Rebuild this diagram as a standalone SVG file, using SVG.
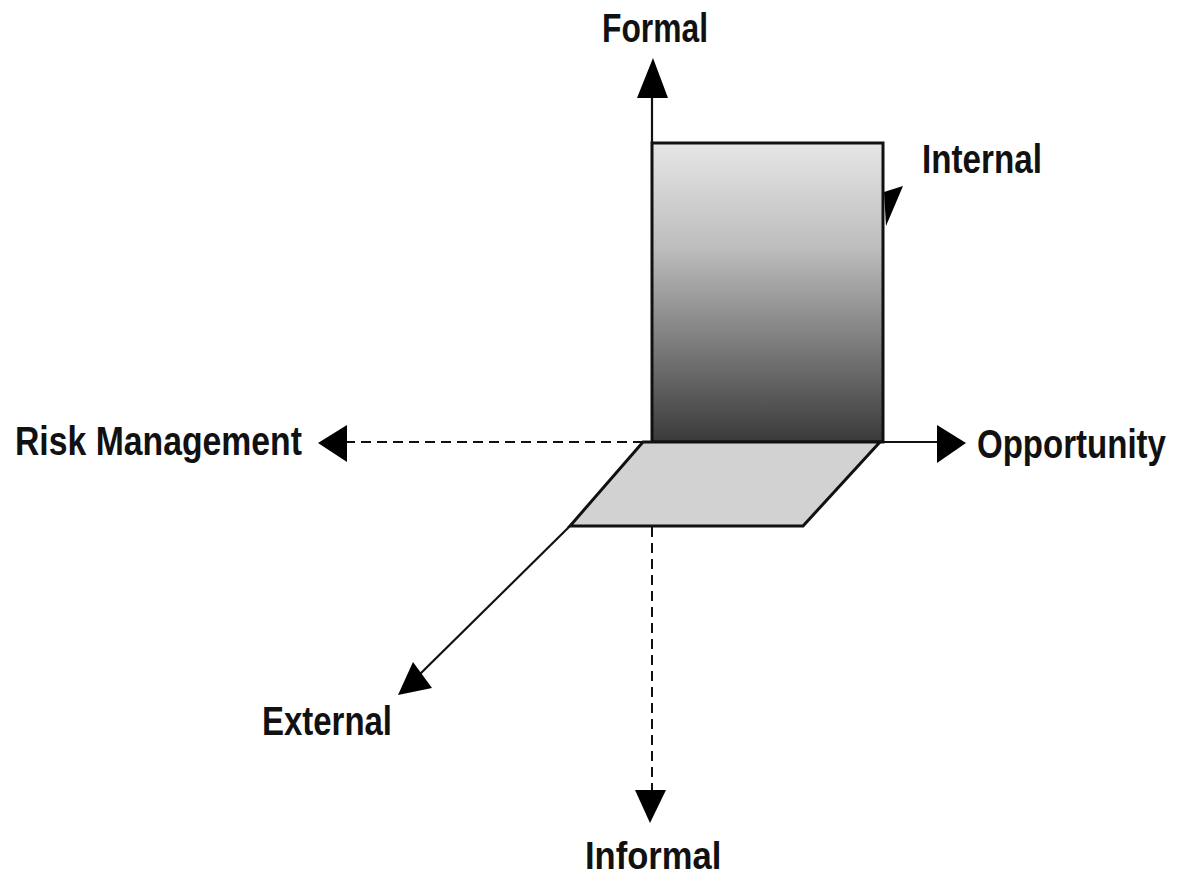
<svg xmlns="http://www.w3.org/2000/svg" width="1177" height="879" viewBox="0 0 1177 879">
<style>
.lbl{font-family:"Liberation Sans",Arial,sans-serif;font-weight:bold;font-size:40px;fill:#111}
.ax{stroke:#111;stroke-width:2.2;fill:none}
.dash{stroke:#111;stroke-width:2;fill:none;stroke-dasharray:10 6}
.head{fill:#000;stroke:none}
</style>
<defs>
<linearGradient id="g1" x1="0" y1="0" x2="0" y2="1">
<stop offset="0" stop-color="#e6e6e6"/>
<stop offset="0.35" stop-color="#bdbdbd"/>
<stop offset="1" stop-color="#3a3a3a"/>
</linearGradient>
</defs>
<rect width="1177" height="879" fill="#fff"/>
<g id="connectors">
<line class="ax" x1="652" y1="143" x2="652" y2="96"/>
<polygon class="head" points="653,58 637,98 668,98"/>
<line class="dash" x1="643" y1="442" x2="346" y2="442"/>
<polygon class="head" points="318,443 347,425 347,462"/>
<line class="ax" x1="883" y1="442" x2="938" y2="442"/>
<polygon class="head" points="966,443 937,425 937,463"/>
<line class="dash" x1="652" y1="527" x2="652" y2="790"/>
<polygon class="head" points="635,790 666,790 650,823"/>
<line class="ax" x1="570" y1="526" x2="418" y2="676"/>
<polygon class="head" points="398,695 413,662 432,688"/>
<polygon class="head" points="884,192 903,186 886,226"/>
</g>
<g id="internal-plane">
<rect x="652" y="143" width="231" height="299" fill="url(#g1)" stroke="#111" stroke-width="3"/>
</g>
<g id="external-plane">
<polygon points="643,442 880,442 803,526 570,526" fill="#d2d2d2" stroke="#111" stroke-width="3" stroke-linejoin="miter"/>
</g>
<g id="label-formal"><text class="lbl" transform="translate(602,42) scale(0.795,1)">Formal</text></g>
<g id="label-internal"><text class="lbl" transform="translate(922,173) scale(0.83,1)">Internal</text></g>
<g id="label-risk"><text class="lbl" transform="translate(15,455) scale(0.844,1)">Risk Management</text></g>
<g id="label-opportunity"><text class="lbl" transform="translate(977,458) scale(0.826,1)">Opportunity</text></g>
<g id="label-external"><text class="lbl" transform="translate(262,735) scale(0.824,1)">External</text></g>
<g id="label-informal"><text class="lbl" style="font-size:38px" transform="translate(585,869) scale(0.91,1)">Informal</text></g>
</svg>
